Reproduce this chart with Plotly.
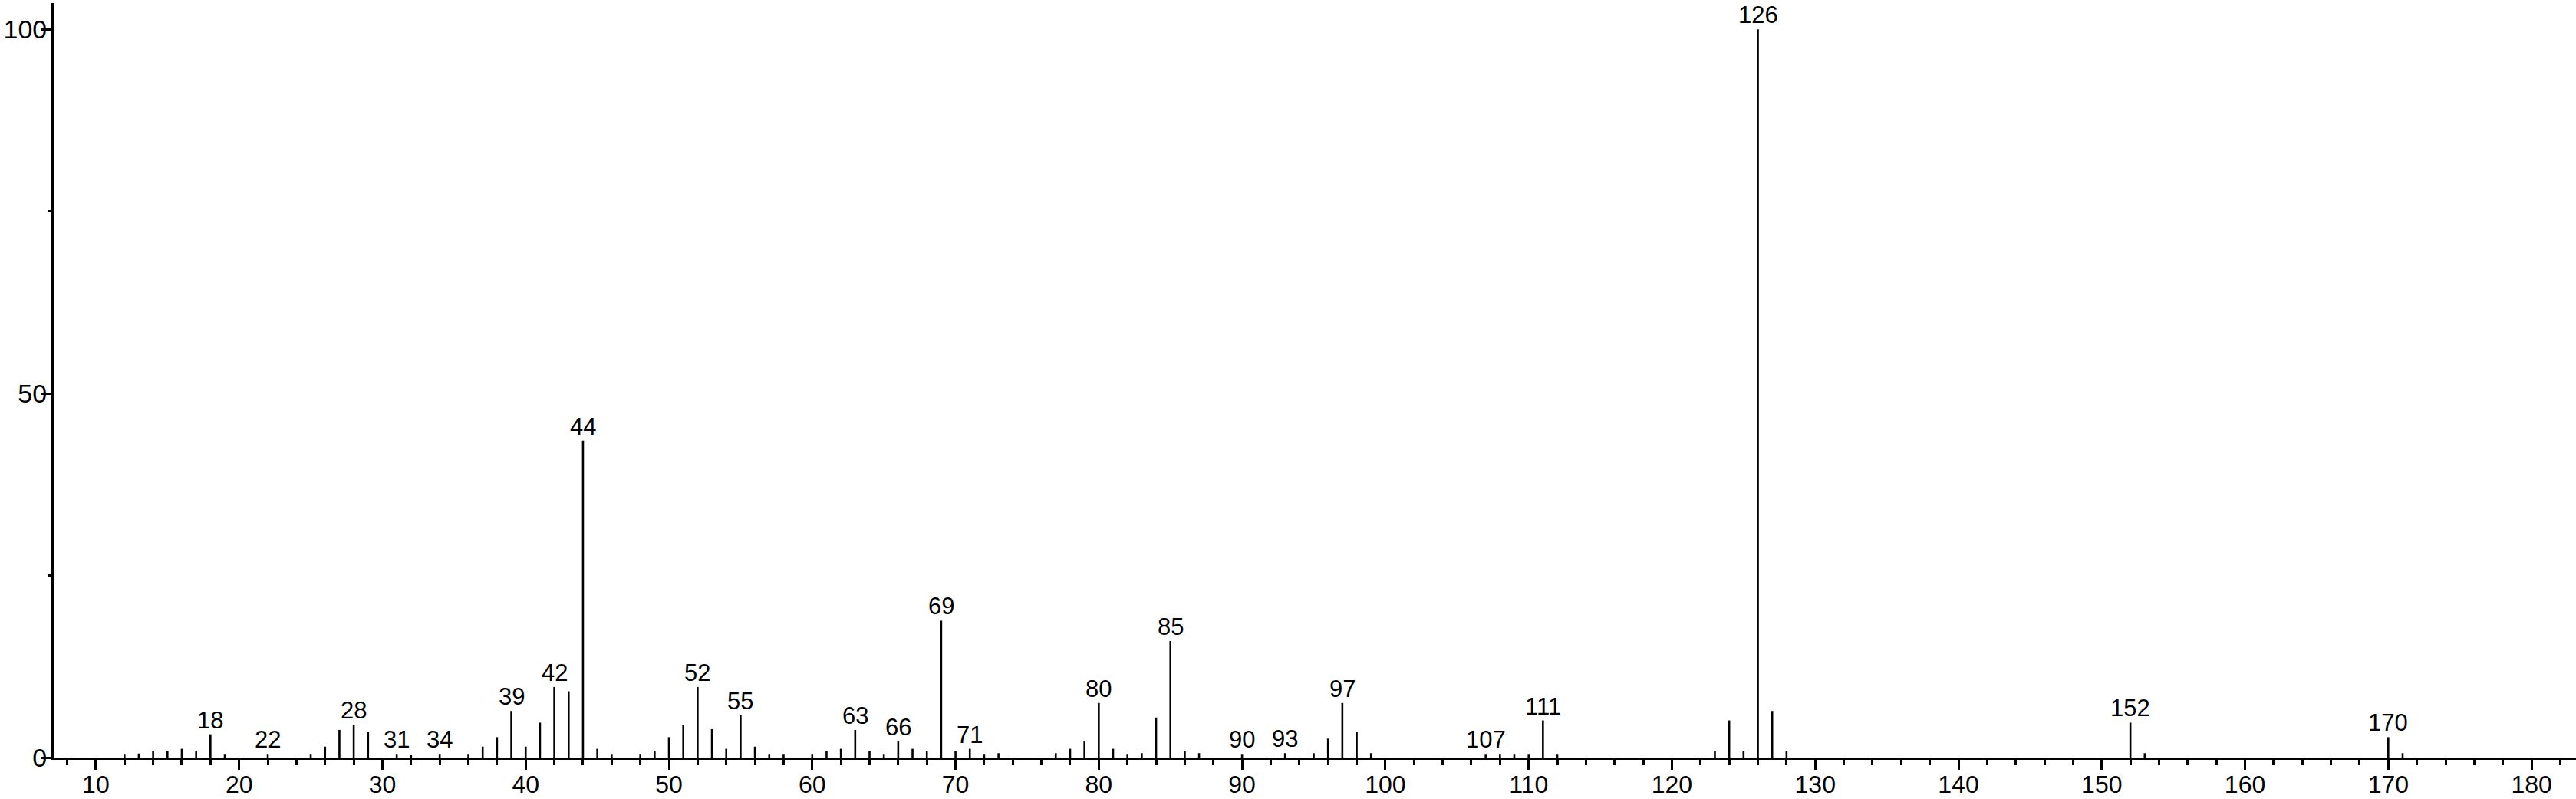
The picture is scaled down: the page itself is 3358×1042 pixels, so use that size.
import plotly.graph_objects as go

# m/z values and relative intensities
mz = [12, 13, 14, 15, 16, 17, 18, 19, 22, 25, 26, 27, 28, 29, 31, 32, 34, 36, 37, 38,
      39, 40, 41, 42, 43, 44, 45, 46, 48, 49, 50, 51, 52, 53, 54, 55, 56, 57, 58, 60,
      61, 62, 63, 64, 65, 66, 67, 68, 69, 70, 71, 72, 73, 77, 78, 79, 80, 81, 82, 83,
      84, 85, 86, 87, 90, 93, 95, 96, 97, 98, 99, 107, 108, 109, 110, 111, 112, 123,
      124, 125, 126, 127, 128, 152, 153, 170, 171]
intensity = [0.5, 0.55, 0.9, 0.9, 1.2, 0.9, 3.2, 0.5, 0.5, 0.5, 1.5, 3.8, 4.5, 3.5, 0.5, 0.4, 0.5, 0.5, 1.5, 2.8,
             6.4, 1.5, 4.8, 9.7, 9.1, 43.5, 1.2, 0.5, 0.5, 0.9, 2.8, 4.5, 9.7, 3.9, 1.2, 5.8, 1.5, 0.5, 0.5, 0.5,
             0.9, 1.2, 3.8, 0.9, 0.5, 2.2, 1.2, 0.9, 18.8, 0.9, 1.2, 0.5, 0.6, 0.6, 1.2, 2.2, 7.5, 1.2, 0.5, 0.6,
             5.5, 16.0, 0.9, 0.6, 0.5, 0.6, 0.6, 2.6, 7.5, 3.5, 0.6, 0.5, 0.5, 0.5, 0.5, 5.1, 0.5, 0.9,
             5.1, 0.9, 100.0, 6.4, 0.9, 4.8, 0.6, 2.8, 0.6]

labeled_mz = [18, 22, 28, 31, 34, 39, 42, 44, 52, 55, 63, 66, 69, 71, 80, 85, 90, 93, 97,
              107, 111, 126, 152, 170]

y_tickvals = [0, 50, 100]
x_tickvals = list(range(10, 181, 10))

xs, ys = [], []
for m, h in zip(mz, intensity):
    xs += [m, m, None]
    ys += [0, h, None]

fig = go.Figure()
fig.add_trace(go.Scatter(x=xs, y=ys, mode="lines",
                         line=dict(color="black", width=2.6),
                         hoverinfo="skip", showlegend=False))

lookup = dict(zip(mz, intensity))
for m in labeled_mz:
    fig.add_annotation(x=m, y=lookup[m], text=str(m), showarrow=False,
                       xanchor="center", yanchor="bottom", yshift=-1,
                       font=dict(family="Liberation Sans, Arial", size=31, color="black"))

XFONT = dict(family="Liberation Sans, Arial", size=32, color="black")
YFONT = dict(family="Liberation Sans, Arial", size=34, color="black")

fig.update_layout(
    template="none",
    width=3358, height=1042,
    margin=dict(l=70, r=0, t=4, b=54, autoexpand=False),
    paper_bgcolor="white", plot_bgcolor="white",
    showlegend=False,
    font=XFONT,
    xaxis=dict(range=[7.06, 183.1], tickvals=x_tickvals, automargin=False,
               ticks="outside", ticklen=13, tickwidth=3, tickcolor="black",
               showline=True, linecolor="black", linewidth=3,
               showgrid=False, zeroline=False, tickfont=XFONT,
               ticklabelstandoff=-8,
               minor=dict(dtick=2, tick0=0, ticks="outside", ticklen=7,
                          tickwidth=3, tickcolor="black", showgrid=False)),
    yaxis=dict(range=[0, 103.6], tickvals=y_tickvals, automargin=False,
               ticks="outside", ticklen=13, tickwidth=3, tickcolor="black",
               showline=True, linecolor="black", linewidth=3,
               showgrid=False, zeroline=False, tickfont=YFONT,
               ticklabelstandoff=-14,
               minor=dict(tickvals=[25, 75], ticks="outside", ticklen=5,
                          tickwidth=3, tickcolor="black", showgrid=False)),
)

fig.write_html("out.html", config={"displayModeBar": False},
               post_script="document.body.style.margin='0';document.body.style.overflow='hidden';")
